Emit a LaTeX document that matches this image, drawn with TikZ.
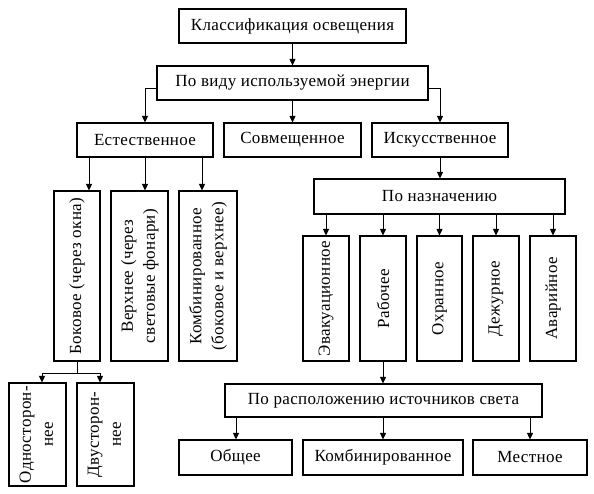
\documentclass[tikz,border=0pt]{standalone}
\usepackage{fontspec}
\setmainfont{Liberation Serif}[LetterSpace=2]
\usetikzlibrary{arrows.meta}
\begin{document}
\begin{tikzpicture}[x=1pt,y=-1pt,
  box/.style={draw,line width=1.1pt,inner sep=0pt,font=\fontsize{17}{18}\selectfont},
  vbox/.style={draw,line width=1.1pt,inner sep=0pt,font=\fontsize{17}{22}\selectfont},
  conn/.style={line width=0.9pt},
  arr/.style={line width=0.9pt,-{Triangle[length=6.5pt,width=6pt]}}]
\useasboundingbox (0,0) rectangle (594,494);
% row 1-2
\node[box,minimum width=227pt,minimum height=34pt] (top) at (292.5,26) {Классификация освещения};
\node[box,minimum width=271pt,minimum height=34pt] (en) at (292.5,83) {По виду используемой энергии};
% row 3
\node[box,minimum width=136pt,minimum height=34pt] (est) at (145,140) {Естественное};
\node[box,minimum width=137pt,minimum height=34pt] (sov) at (292.5,140) {Совмещенное};
\node[box,minimum width=136pt,minimum height=34pt] (isk) at (440,140) {Искусственное};
% natural
\node[vbox,minimum width=46pt,minimum height=170pt] (bok) at (77,276) {\rotatebox{90}{Боковое (через окна)}};
\node[vbox,minimum width=57pt,minimum height=170pt] (ver) at (139.5,276) {\rotatebox{90}{\begin{tabular}{@{}c@{}}Верхнее (через\\световые фонари)\end{tabular}}};
\node[vbox,minimum width=58pt,minimum height=170pt] (kom) at (208,276) {\rotatebox{90}{\begin{tabular}{@{}c@{}}Комбинированное\\(боковое и верхнее)\end{tabular}}};
\node[vbox,minimum width=57pt,minimum height=103pt] (odn) at (37.5,434.5) {\rotatebox{90}{\begin{tabular}{@{}c@{}}Односторон-\\нее\end{tabular}}};
\node[vbox,minimum width=57pt,minimum height=103pt] (dvu) at (105.5,434.5) {\rotatebox{90}{\begin{tabular}{@{}c@{}}Двусторон-\\нее\end{tabular}}};
% artificial
\node[box,minimum width=251pt,minimum height=35pt] (naz) at (439.5,196.5) {По назначению};
\node[vbox,minimum width=46pt,minimum height=125pt] (eva) at (326,298.5) {\rotatebox{90}{Эвакуационное}};
\node[vbox,minimum width=46pt,minimum height=125pt] (rab) at (383,298.5) {\rotatebox{90}{Рабочее}};
\node[vbox,minimum width=45pt,minimum height=125pt] (ohr) at (439.5,298.5) {\rotatebox{90}{Охранное}};
\node[vbox,minimum width=46pt,minimum height=125pt] (dej) at (496,298.5) {\rotatebox{90}{Дежурное}};
\node[vbox,minimum width=46pt,minimum height=125pt] (ava) at (553,298.5) {\rotatebox{90}{Аварийное}};
\node[box,minimum width=317pt,minimum height=33pt] (ras) at (383.5,400.5) {По расположению источников света};
\node[box,minimum width=113pt,minimum height=35pt] (obs) at (235.5,457.5) {Общее};
\node[box,minimum width=160pt,minimum height=35pt] (kmb) at (383,457.5) {Комбинированное};
\node[box,minimum width=114pt,minimum height=35pt] (mes) at (530,457.5) {Местное};
% connectors
\draw[arr] (top) -- (en);
\draw[arr] (en.west |- 0,88) -| (est.north -| 145,0);
\draw[arr] (en) -- (sov);
\draw[arr] (en.east |- 0,88) -| (isk.north -| 440,0);
\draw[arr] (est.south -| 89,0) -- (bok.north -| 89,0);
\draw[arr] (est.south -| 145,0) -- (ver.north -| 145,0);
\draw[arr] (est.south -| 202,0) -- (kom.north -| 202,0);
\coordinate (bj) at (77,373);
\draw[conn] (bok.south) -- (bj);
\draw[arr] (bj) -| (odn.north -| 42,0);
\draw[arr] (bj) -| (dvu.north -| 100,0);
\draw[arr] (isk.south -| 440,0) -- (naz.north -| 440,0);
\draw[arr] (naz.south -| 326,0) -- (eva.north);
\draw[arr] (naz.south -| 383,0) -- (rab.north);
\draw[arr] (naz.south -| 439.5,0) -- (ohr.north);
\draw[arr] (naz.south -| 496,0) -- (dej.north);
\draw[arr] (naz.south -| 553,0) -- (ava.north);
\draw[arr] (rab.south) -- (ras.north -| rab.south);
\draw[arr] (ras.south -| 236,0) -- (obs.north -| 236,0);
\draw[arr] (ras.south -| 383,0) -- (kmb.north);
\draw[arr] (ras.south -| 530,0) -- (mes.north);
\end{tikzpicture}
\end{document}
